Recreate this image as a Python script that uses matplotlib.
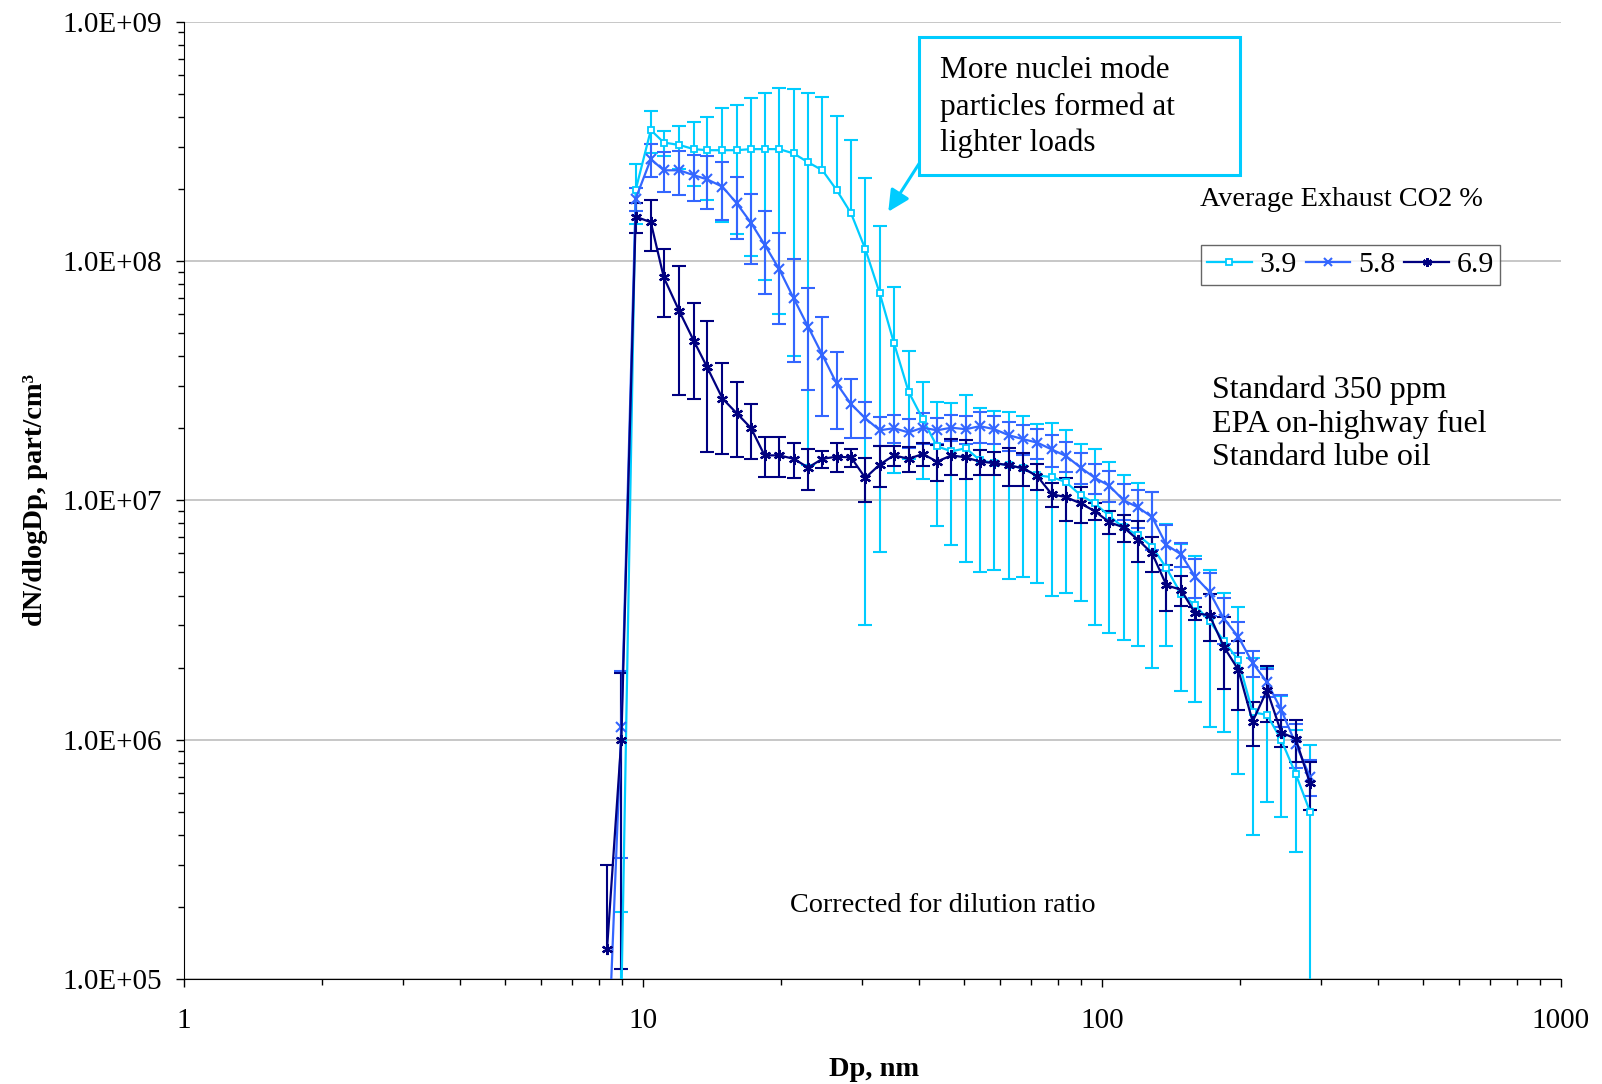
import numpy as np
import matplotlib
matplotlib.use("Agg")
import matplotlib.pyplot as plt
from matplotlib.patches import Rectangle, FancyArrowPatch
from matplotlib.ticker import LogLocator, NullFormatter

plt.rcParams['font.family'] = ['Liberation Serif', 'DejaVu Serif']

# particle diameter, nm (SMPS channel midpoints)
dp = [8.35, 8.97, 9.64, 10.4, 11.1, 12.0, 12.9, 13.8, 14.9, 16.0,
      17.2, 18.4, 19.8, 21.3, 22.9, 24.6, 26.4, 28.4, 30.5, 32.8,
      35.2, 37.9, 40.7, 43.7, 47.0, 50.5, 54.2, 58.3, 62.6, 67.3,
      72.3, 77.7, 83.5, 89.8, 96.5, 103.7, 111.4, 119.7, 128.6, 138.2,
      148.6, 159.6, 171.5, 184.3, 198.1, 212.9, 228.8, 245.8, 264.2, 283.9]

# CO2 3.9 %
y39 = [np.nan, 8.0e4, 1.98e8, 3.52e8, 3.12e8, 3.05e8, 2.93e8, 2.90e8, 2.90e8, 2.90e8,
       2.93e8, 2.93e8, 2.93e8, 2.81e8, 2.58e8, 2.39e8, 1.98e8, 1.58e8, 1.12e8, 7.31e7,
       4.55e7, 2.84e7, 2.18e7, 1.68e7, 1.60e7, 1.65e7, 1.47e7, 1.43e7, 1.40e7, 1.36e7,
       1.27e7, 1.25e7, 1.19e7, 1.05e7, 9.7e6, 8.6e6, 7.7e6, 7.15e6, 6.4e6, 5.2e6,
       4.07e6, 3.64e6, 3.13e6, 2.58e6, 2.15e6, 1.30e6, 1.27e6, 9.96e5, 7.2e5, 5.0e5]
e39 = [0, 1.1e5, 0.55e8, 0.70e8, 0.37e8, 0.62e8, 0.87e8, 1.10e8, 1.44e8, 1.60e8,
       1.88e8, 2.10e8, 2.33e8, 2.41e8, 2.44e8, 2.44e8, 2.05e8, 1.62e8, 1.09e8, 6.7e7,
       3.25e7, 1.36e7, 0.95e7, 0.90e7, 0.95e7, 1.10e7, 0.97e7, 0.92e7, 0.93e7, 0.88e7,
       0.82e7, 0.85e7, 0.78e7, 0.67e7, 6.7e6, 5.8e6, 5.1e6, 4.7e6, 4.4e6, 2.75e6,
       2.47e6, 2.2e6, 2.0e6, 1.5e6, 1.43e6, 0.90e6, 0.72e6, 0.52e6, 0.38e6, 0.45e6]

# CO2 5.8 %
y58 = [3.6e4, 1.13e6, 1.82e8, 2.66e8, 2.39e8, 2.39e8, 2.28e8, 2.19e8, 2.04e8, 1.74e8,
       1.44e8, 1.17e8, 9.24e7, 6.97e7, 5.3e7, 4.04e7, 3.08e7, 2.52e7, 2.2e7, 1.96e7,
       2.0e7, 1.92e7, 2.01e7, 1.96e7, 2.01e7, 1.98e7, 2.04e7, 1.98e7, 1.87e7, 1.80e7,
       1.74e7, 1.63e7, 1.53e7, 1.37e7, 1.24e7, 1.15e7, 1.0e7, 9.35e6, 8.5e6, 6.5e6,
       5.95e6, 4.79e6, 4.14e6, 3.2e6, 2.69e6, 2.09e6, 1.74e6, 1.33e6, 9.6e5, 7.0e5]
e58 = [0, 0.81e6, 0.2e8, 0.42e8, 0.45e8, 0.50e8, 0.50e8, 0.55e8, 0.56e8, 0.51e8,
       0.47e8, 0.44e8, 3.8e7, 3.2e7, 2.4e7, 1.8e7, 1.1e7, 0.7e7, 0.38e7, 0.27e7,
       0.27e7, 0.27e7, 0.3e7, 0.25e7, 0.25e7, 0.27e7, 0.3e7, 0.27e7, 0.26e7, 0.26e7,
       0.25e7, 0.25e7, 0.22e7, 0.2e7, 0.18e7, 0.17e7, 0.17e7, 1.7e6, 2.3e6, 1.4e6,
       0.7e6, 0.9e6, 0.85e6, 0.7e6, 0.4e6, 0.26e6, 0.24e6, 0.2e6, 0.2e6, 0.12e6]

# CO2 6.9 %
y69 = [1.34e5, 1.0e6, 1.53e8, 1.45e8, 8.53e7, 6.16e7, 4.64e7, 3.59e7, 2.66e7, 2.31e7,
       2.0e7, 1.54e7, 1.54e7, 1.49e7, 1.37e7, 1.49e7, 1.52e7, 1.51e7, 1.24e7, 1.41e7,
       1.54e7, 1.49e7, 1.56e7, 1.45e7, 1.54e7, 1.51e7, 1.45e7, 1.43e7, 1.40e7, 1.36e7,
       1.26e7, 1.06e7, 1.03e7, 9.7e6, 9.0e6, 8.1e6, 7.7e6, 6.85e6, 6.0e6, 4.41e6,
       4.23e6, 3.37e6, 3.31e6, 2.44e6, 1.96e6, 1.19e6, 1.61e6, 1.07e6, 1.01e6, 6.56e5]
e69 = [1.66e5, 0.89e6, 0.22e8, 0.35e8, 2.7e7, 3.4e7, 2.0e7, 2.0e7, 1.1e7, 0.8e7,
       0.52e7, 0.29e7, 0.29e7, 0.25e7, 0.27e7, 0.12e7, 0.21e7, 0.13e7, 0.26e7, 0.27e7,
       0.15e7, 0.18e7, 0.17e7, 0.25e7, 0.26e7, 0.28e7, 0.17e7, 0.16e7, 0.25e7, 0.21e7,
       0.16e7, 0.12e7, 0.21e7, 1.7e6, 0.7e6, 0.9e6, 1.0e6, 1.35e6, 1.0e6, 0.95e6,
       0.6e6, 0.2e6, 0.73e6, 0.82e6, 0.63e6, 0.25e6, 0.42e6, 0.14e6, 0.2e6, 0.15e6]

labels = ['3.9', '5.8', '6.9']
colors = ['#00CCFF', '#3366FF', '#000080']
ytick_vals = [1e5, 1e6, 1e7, 1e8, 1e9]
ytick_labels = ['1.0E+05', '1.0E+06', '1.0E+07', '1.0E+08', '1.0E+09']
xtick_vals = [1, 10, 100, 1000]
xtick_labels = ['1', '10', '100', '1000']

W, H = 1602, 1084
fig = plt.figure(figsize=(W / 100, H / 100), dpi=100)
ax = fig.add_axes([184 / W, 1 - 979 / H, (1561 - 184) / W, (979 - 21.5) / H])


def fx(px):
    return px / W


def fy(py):
    return 1 - py / H


markers = [dict(marker='s', ms=5, mfc='white', mew=1.3),
           dict(marker='x', ms=6.5, mew=1.5),
           dict(marker=(6, 2, 0), ms=8, mew=1.6)]

x = np.array(dp)
for ys, es, lab, c, mk in zip([y39, y58, y69], [e39, e58, e69], labels, colors, markers):
    ys = np.array(ys)
    es = np.array(es)
    ok = (ys - es) > 0
    lo = np.where(ok, es, 0.0)
    eb = ax.errorbar(x, ys, yerr=[lo, es], fmt='none', ecolor=c, elinewidth=1.5,
                     capsize=5, capthick=1.5, zorder=3)
    # Excel drops the lower bar when it would go below zero on a log axis
    lowcap = eb[1][0]
    lowcap.set_data(x[ok], (ys - es)[ok])
    ax.plot(x, ys, color=c, lw=1.6, mec=c, label=lab, zorder=4, **mk)

ax.set_xscale('log')
ax.set_yscale('log')
ax.set_xlim(1, 1000)
ax.set_ylim(1e5, 1e9)
ax.set_yticks(ytick_vals)
ax.set_yticklabels(ytick_labels)
ax.set_xticks(xtick_vals)
ax.set_xticklabels(xtick_labels)
ax.xaxis.set_minor_locator(LogLocator(base=10, subs=np.arange(2, 10)))
ax.yaxis.set_minor_locator(LogLocator(base=10, subs=np.arange(2, 10)))
ax.xaxis.set_minor_formatter(NullFormatter())
ax.yaxis.set_minor_formatter(NullFormatter())
ax.tick_params(axis='both', which='major', labelsize=21, direction='out', length=6, width=1)
ax.tick_params(axis='both', which='minor', direction='out', length=4, width=1)
ax.tick_params(axis='y', which='major', pad=10)
ax.tick_params(axis='x', which='major', pad=15)
ax.grid(True, axis='y', which='major', color='#BEBEBE', lw=1.2)
ax.spines['top'].set_visible(False)
ax.spines['right'].set_visible(False)
ax.set_axisbelow(True)

leg = ax.legend(loc='upper left', bbox_to_anchor=((1200.5 - 184) / 1377, 1 - (245 - 21.5) / 957.5),
                ncol=3, fontsize=21.5, frameon=True, fancybox=False, borderaxespad=0,
                handlelength=1.5, handletextpad=0.25, columnspacing=0.3, borderpad=0.22,
                markerscale=0.8)
leg.get_frame().set_edgecolor('#404040')
leg.get_frame().set_linewidth(1.0)

fig.text(fx(1200.5), fy(199), 'Average Exhaust CO2 %', fontsize=20.3, va='center', ha='left')
fig.text(fx(1211.7), fy(424), 'Standard 350 ppm\nEPA on-highway fuel\nStandard lube oil',
         fontsize=23, va='center', ha='left', linespacing=1.2)
fig.text(fx(943), fy(906), 'Corrected for dilution ratio', fontsize=20.3, va='center', ha='center')

# call-out box and arrow
fig.patches.append(Rectangle((fx(919.3), fy(175)), fx(1240) - fx(919.3), fy(37.3) - fy(175),
                             transform=fig.transFigure, fill=False, edgecolor='#00CCFF', lw=2.2))
fig.text(fx(940), fy(107), 'More nuclei mode\nparticles formed at\nlighter loads',
         fontsize=22.5, va='center', ha='left', linespacing=1.3)
fig.add_artist(FancyArrowPatch(
    (fx(919.3), fy(163.3)), (fx(888.3), fy(211.7)), transform=fig.transFigure,
    arrowstyle='-|>', mutation_scale=32, color='#00CCFF', lw=2.2, shrinkA=0, shrinkB=0))

fig.text(fx(873.6), fy(1070), 'Dp, nm', fontsize=20.5, fontweight='bold', ha='center', va='center')
fig.text(fx(36), fy(500), 'dN/dlogDp, part/cm³', fontsize=20.5, fontweight='bold',
         ha='center', va='center', rotation=90)

fig.savefig('out.png', dpi=100)
